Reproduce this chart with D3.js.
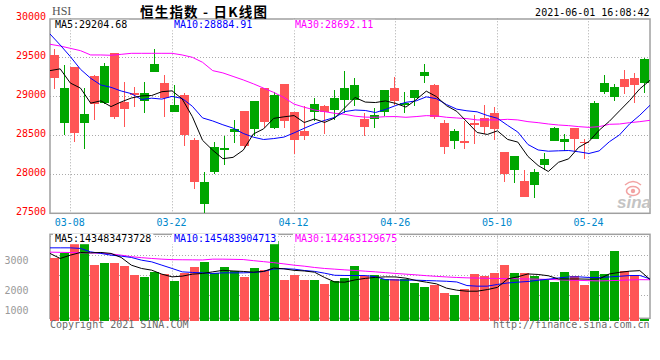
<!DOCTYPE html>
<html><head><meta charset="utf-8">
<script src="https://cdn.jsdelivr.net/npm/d3@7"></script>
<style>body{margin:0;background:#fff}svg{display:block}</style>
</head><body>
<svg id="c" width="660" height="360"></svg>
<script>
// ---------- DATA ----------
const dates = ["03-04","03-05","03-08","03-09","03-10","03-11","03-12","03-15","03-16","03-17",
"03-18","03-19","03-22","03-23","03-24","03-25","03-26","03-29","03-30","03-31",
"04-01","04-07","04-08","04-09","04-12","04-13","04-14","04-15","04-16","04-19",
"04-20","04-21","04-22","04-23","04-26","04-27","04-28","04-29","04-30","05-03",
"05-04","05-05","05-06","05-07","05-10","05-11","05-12","05-13","05-14","05-17",
"05-18","05-20","05-21","05-24","05-25","05-26","05-27","05-28","05-31","06-01"];
const openP  = [29530,28662,29372,28662,29261,28910,29556,28927,29047,28944,29316,29175,28803,29017,28440,27624,28034,28316,28547,28812,
28585,29103,28598,29158,28799,28555,28795,28876,28825,28957,28957,28709,28714,28795,29107,28889,28983,29265,29145,28662,
28432,28427,28658,28722,28786,28286,28060,27914,27867,28120,28432,28410,28594,28410,28457,29056,28996,29222,29239,29167];
const highP  = [29607,29402,29380,29103,29270,29423,29560,29184,29115,29184,29607,29273,29145,29047,28470,28030,28414,28491,28697,28815,
28945,29106,29060,29160,28800,28876,28979,28889,29081,29325,29231,28782,28850,29085,29252,29060,29085,29415,29158,28697,
28581,28684,28761,28889,28859,28290,28240,28055,28068,28269,28611,28513,28597,28453,28944,29273,29158,29338,29303,29496];
const lowP   = [29094,28500,28419,28320,28697,28905,28705,28611,28867,28782,29310,28739,28800,28367,27812,27504,28004,28120,28397,28333,
28491,28590,28581,28590,28261,28440,28688,28517,28697,28782,28876,28491,28598,28752,28889,28790,28876,29167,28705,28256,
28320,28320,28384,28513,28440,27906,27893,27710,27701,28055,28430,28299,28299,28192,28455,29026,28944,29030,28910,29038];
const closeP = [29239,29107,28534,28773,28907,29389,28739,28833,29021,29043,29415,28983,28889,28500,27906,27902,28350,28342,28585,28367,
28940,28675,29017,28688,28444,28496,28902,28795,28974,29107,29145,28611,28761,29081,28944,28914,29081,29312,28731,28355,
28555,28406,28632,28607,28585,28004,28235,27713,28030,28196,28598,28453,28457,28397,28919,29171,29120,29124,29145,29479];
const ma5  = [29329,29352,29170,29105,28912,28942,28868,28928,28978,29005,29010,29059,29070,28966,28739,28436,28309,28200,28217,28309,
28517,28582,28717,28737,28753,28664,28709,28665,28722,28855,28985,28926,28920,28941,28908,28862,28956,29066,28996,28879,
28807,28672,28536,28511,28557,28447,28413,28229,28113,28036,28154,28198,28347,28420,28565,28679,28813,28946,29096,29205];
const ma10 = [29799,29658,29509,29346,29231,29145,29115,29068,29034,28959,28976,28964,28999,28972,28872,28723,28684,28635,28592,28524,
28476,28446,28458,28477,28531,28590,28646,28691,28730,28804,28824,28818,28792,28832,28882,28923,28941,28993,28969,28894,
28835,28814,28801,28754,28718,28627,28542,28382,28312,28296,28301,28305,28288,28267,28300,28417,28505,28647,28758,28885];
const ma30 = [29667,29645,29615,29585,29530,29530,29526,29538,29551,29551,29551,29551,29551,29530,29500,29436,29329,29300,29255,29210,
29160,29105,29050,28985,28900,28860,28825,28803,28782,28769,28745,28733,28731,28739,28740,28731,28740,28752,28748,28731,
28722,28714,28697,28697,28697,28705,28697,28675,28662,28645,28632,28624,28611,28602,28611,28641,28645,28662,28675,28692];
// turnover, 100 million HKD
const volume = [2187,2341,2828,2850,1933,2013,2013,1909,1585,1515,1700,1620,1376,1665,1874,2048,1644,1874,1735,1526,
1829,1759,2769,1411,1585,1411,1411,1271,1376,1480,1898,1550,1574,1445,1435,1435,1306,1177,1247,968,
888,1087,1620,1550,1654,1933,1654,1654,1560,1445,1351,1689,1539,1236,1724,1620,2421,1724,1585,42];
const vma5  = [2341,2166,2281,2375,2361,2375,2341,2201,1933,1818,1759,1620,1526,1550,1620,1644,1700,1752,1731,1714,
1689,1714,1836,1804,1752,1731,1689,1505,1348,1341,1421,1473,1508,1526,1522,1480,1400,1341,1282,1132,
1062,1027,1027,1083,1160,1452,1529,1627,1609,1564,1452,1452,1452,1445,1452,1627,1682,1724,1742,1435];
const vma10 = [2536,2536,2536,2515,2396,2341,2281,2247,2201,2107,2048,1933,1818,1700,1679,1665,1644,1665,1665,1665,
1679,1714,1801,1811,1794,1748,1717,1654,1581,1574,1574,1571,1533,1428,1418,1411,1411,1397,1386,1372,
1348,1223,1202,1202,1261,1313,1341,1365,1407,1445,1487,1522,1526,1505,1505,1522,1546,1571,1574,1455];
const vma30 = [2386,2379,2372,2365,2358,2351,2323,2281,2229,2194,2166,2142,2125,2121,2118,2114,2142,2142,2135,2128,
2090,2055,2020,1978,1933,1898,1853,1818,1794,1769,1748,1724,1700,1672,1644,1620,1595,1567,1543,1522,
1505,1491,1484,1477,1470,1466,1459,1452,1445,1438,1425,1411,1404,1393,1386,1393,1404,1418,1428,1425];
const priceTicks = [30000,29500,29000,28500,28000,27500];
const volTicks = [3000,2000,1000];
const dateTicks = ["03-08","03-22","04-12","04-26","05-10","05-24"];
const priceLegend = ["MA5:29204.68","MA10:28884.91","MA30:28692.11"];
const volLegend = ["MA5:143483473728","MA10:145483904713","MA30:142463129675"];

// ---------- LAYOUT ----------
const svg = d3.select("#c");
const L = 50, R = 650;
const pTop = 18.3, pBot = 213.3;
const vTop = 234.5, vBot = 320.7, vFrameBot = 318.3;
const n = dates.length;
const RED = "#ff5555", GREEN = "#00a600";
const legendColors = ["#000000","#0000ff","#ff00ff"];
const legendX = [55,174,295];
const MONO = "'DejaVu Sans Mono', 'Liberation Mono', monospace";
const GRID = "#aaaaaa", FRAME = "#a0a0a0";

const xc = d3.scaleLinear().domain([0, n]).range([L, R]);      // candle slots
const xg = d3.scaleLinear().domain([0, n - 1]).range([L, R]);  // grid + MA lines
const y = d3.scaleLinear().domain([27500, 30000]).range([pBot, pTop]);
const yv = d3.scaleLinear().domain([0, 3000]).range([vBot, vTop]);
const yvLabel = d3.scaleLinear().domain([1000, 2000, 3000]).range([310, 290, 260.5]);
const px = v => Math.floor(v) + 0.5;

// ---------- GRID ----------
const g = svg.append("g");
priceTicks.filter(t => t < 30000 && t > 27500).forEach(t => {
  g.append("line").attr("x1", L).attr("x2", R).attr("y1", px(y(t))).attr("y2", px(y(t)))
    .attr("stroke", GRID).attr("stroke-dasharray", "1,2");
});
const volGridFrac = [0.02, 0.25, 0.49, 0.73];
volGridFrac.forEach(f => {
  const yy = px(vTop + f * (vFrameBot - vTop));
  g.append("line").attr("x1", L).attr("x2", R).attr("y1", yy).attr("y2", yy)
    .attr("stroke", GRID).attr("stroke-dasharray", "1,2");
});
dateTicks.forEach(d => {
  const xx = px(xg(dates.indexOf(d)));
  g.append("line").attr("x1", xx).attr("x2", xx).attr("y1", pTop).attr("y2", pBot)
    .attr("stroke", GRID).attr("stroke-dasharray", "1,2");
  g.append("line").attr("x1", xx).attr("x2", xx).attr("y1", vTop).attr("y2", vFrameBot)
    .attr("stroke", GRID).attr("stroke-dasharray", "1,2");
});

// ---------- FRAMES ----------
const fr = svg.append("g").attr("stroke", FRAME).attr("stroke-width", 1.5).attr("fill", "none");
fr.append("rect").attr("x", L).attr("y", 19).attr("width", R - L).attr("height", pBot - 19);
fr.append("rect").attr("x", L).attr("y", vTop - 0.2).attr("width", R - L).attr("height", vFrameBot - vTop + 0.2);

// ---------- CANDLES ----------
const cg = svg.append("g").attr("shape-rendering", "crispEdges");
dates.forEach((d, i) => {
  const o = openP[i], c = closeP[i];
  const col = c >= o ? GREEN : RED;
  const x0 = xc(i);
  cg.append("rect").attr("x", x0 + 4).attr("width", 1)
    .attr("y", y(highP[i])).attr("height", Math.max(1, y(lowP[i]) - y(highP[i])))
    .attr("fill", col);
  const top = y(Math.max(o, c)), bot = y(Math.min(o, c));
  cg.append("rect").attr("x", x0).attr("width", 9)
    .attr("y", top).attr("height", Math.max(1, bot - top)).attr("fill", col);
});

// ---------- VOLUME BARS ----------
const vg = svg.append("g").attr("shape-rendering", "crispEdges");
volume.forEach((v, i) => {
  const col = closeP[i] >= openP[i] ? GREEN : RED;
  vg.append("rect").attr("x", xc(i)).attr("width", 9)
    .attr("y", yv(v)).attr("height", Math.max(1, vBot - yv(v))).attr("fill", col);
});

// ---------- MA LINES ----------
const lineP = d3.line().x((d, i) => xg(i)).y(d => y(d));
const lineV = d3.line().x((d, i) => xg(i)).y(d => yv(d));
[[ma30, 2], [ma10, 1], [ma5, 0]].forEach(([arr, k]) => {
  svg.append("path").attr("d", lineP(arr)).attr("fill", "none")
    .attr("stroke", legendColors[k]).attr("stroke-width", 1);
});
[[vma30, 2], [vma10, 1], [vma5, 0]].forEach(([arr, k]) => {
  svg.append("path").attr("d", lineV(arr)).attr("fill", "none")
    .attr("stroke", legendColors[k]).attr("stroke-width", 1);
});

// ---------- LEGENDS ----------
function legendRow(texts, yy) {
  texts.forEach((t, k) => {
    const bg = svg.append("rect").attr("fill", "#fff");
    const tx = svg.append("text").attr("x", legendX[k]).attr("y", yy)
      .attr("dominant-baseline", "central").attr("font-family", MONO).attr("font-size", 10)
      .attr("fill", legendColors[k]).text(t);
    const w = tx.node().getComputedTextLength();
    bg.attr("x", legendX[k] - 2).attr("y", yy - 5).attr("width", w + 4).attr("height", 10.5);
  });
}
legendRow(priceLegend, 24.8);
legendRow(volLegend, 238.7);

// ---------- AXIS LABELS ----------
priceTicks.forEach(t => {
  svg.append("text").attr("x", 46).attr("y", Math.max(15, y(t) - 1.5))
    .attr("text-anchor", "end").attr("dominant-baseline", "central")
    .attr("font-family", MONO).attr("font-size", 10).attr("fill", "#ff0000").text(t);
});
volTicks.forEach(t => {
  svg.append("text").attr("x", 28.5).attr("y", yvLabel(t))
    .attr("text-anchor", "end").attr("dominant-baseline", "central")
    .attr("font-family", MONO).attr("font-size", 10).attr("fill", "#9a9a9a").text(t);
});
dateTicks.forEach(d => {
  svg.append("text").attr("x", xg(dates.indexOf(d)) - 0.5).attr("y", 222)
    .attr("text-anchor", "middle").attr("dominant-baseline", "central")
    .attr("font-family", MONO).attr("font-size", 10).attr("fill", "#0088cc").text(d);
});

// ---------- HEADER / FOOTER ----------
svg.append("text").attr("x", 52).attr("y", 11).attr("dominant-baseline", "central")
  .attr("font-family", "'Liberation Serif', serif").attr("font-size", 12).attr("fill", "#555").text("HSI");
svg.append("text").attr("x", 140).attr("y", 10.5).attr("dominant-baseline", "central")
  .attr("font-family", "'Noto Sans CJK SC', sans-serif").attr("font-size", 13.5).attr("font-weight", "bold")
  .attr("letter-spacing", 1.2).attr("fill", "#000").text("恒生指数 - 日K线图");
svg.append("text").attr("x", 649.5).attr("y", 12).attr("text-anchor", "end").attr("dominant-baseline", "central")
  .attr("font-family", MONO).attr("font-size", 10).attr("fill", "#000").text("2021-06-01 16:08:42");
svg.append("text").attr("x", 50).attr("y", 324.5).attr("dominant-baseline", "central")
  .attr("font-family", MONO).attr("font-size", 10).attr("fill", "#6a6a6a").text("Copyright 2021 SINA.COM");
svg.append("text").attr("x", 649.5).attr("y", 324.5).attr("text-anchor", "end").attr("dominant-baseline", "central")
  .attr("font-family", MONO).attr("font-size", 10).attr("fill", "#6a6a6a").text("http://finance.sina.com.cn");

// ---------- SINA WATERMARK ----------
const wm = svg.append("g");
wm.append("ellipse").attr("cx", 633).attr("cy", 191).attr("rx", 6.5).attr("ry", 4.5)
  .attr("fill", "none").attr("stroke", "#f2a3a3").attr("stroke-width", 1.6);
wm.append("circle").attr("cx", 633).attr("cy", 191).attr("r", 2.2).attr("fill", "#f2a3a3");
wm.append("path").attr("d", "M625,185 Q633,178 641,185").attr("fill", "none").attr("stroke", "#f2a3a3").attr("stroke-width", 1.4);
wm.append("text").attr("x", 617).attr("y", 208).attr("font-family", "'Liberation Sans', Arial, sans-serif")
  .attr("font-size", 17).attr("font-style", "italic").attr("font-weight", "bold").attr("fill", "#c4c4c4").text("sina");
</script>
</body></html>
